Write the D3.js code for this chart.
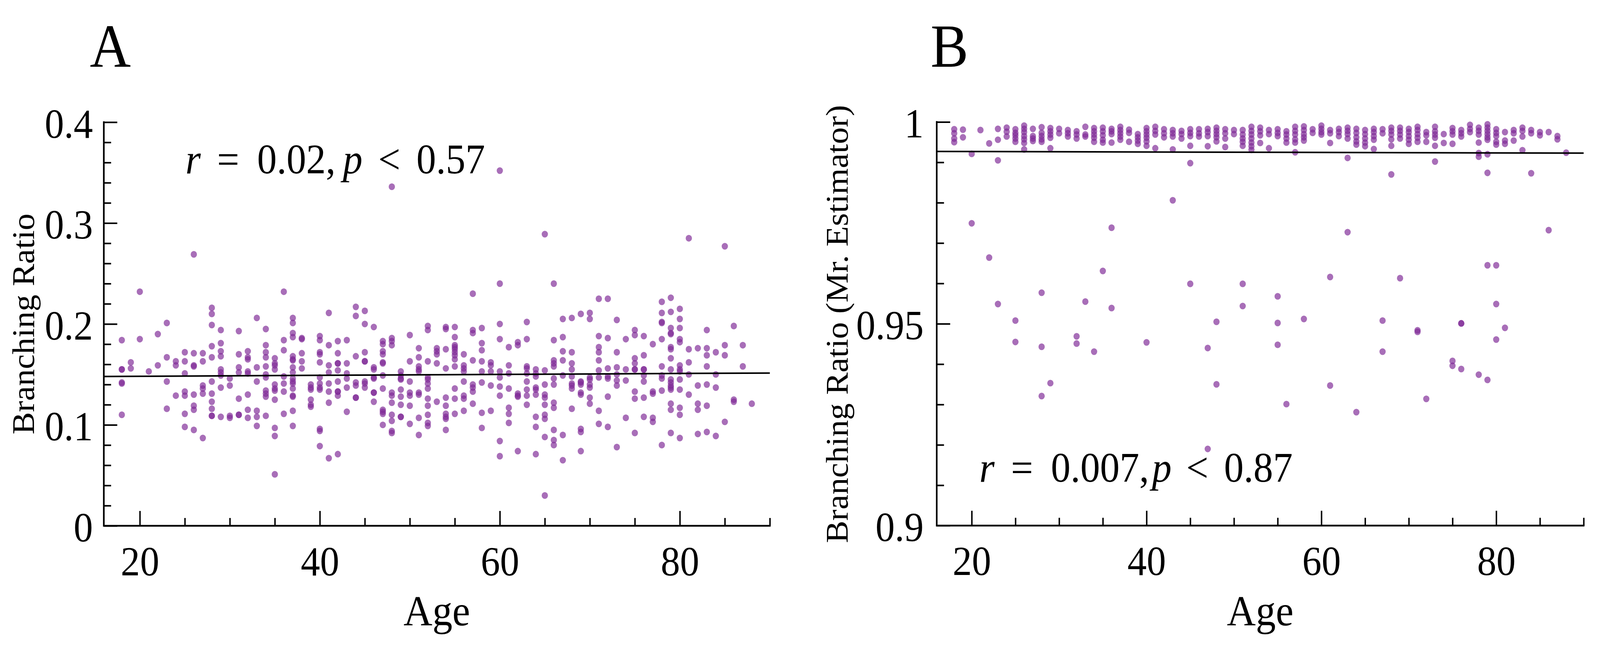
<!DOCTYPE html>
<html>
<head>
<meta charset="utf-8">
<script src="https://cdn.jsdelivr.net/npm/d3@7/dist/d3.min.js"></script>
<style>
  html, body { margin: 0; padding: 0; background: #ffffff; overflow: hidden; width: 100%; height: 100%; }
  #chart { position: fixed; left: 0; top: 0; width: 100vw; height: 100vh; display: block; }
  svg text { font-family: "Liberation Serif", "Times New Roman", "DejaVu Serif", serif; fill: #000; }
</style>
</head>
<body>
<svg id="chart" viewBox="0 0 4400 1719" preserveAspectRatio="none"></svg>
<script>
// ---------------- DATA ----------------
// Panel A: Branching Ratio vs Age (values per age)
const agesA = [18,19,20,21,22,23,24,25,26,27,28,29,30,31,32,33,34,35,36,37,38,39,40,41,42,43,44,45,46,47,48,49,50,51,52,53,54,55,56,57,58,59,60,61,62,63,64,65,66,67,68,69,70,71,72,73,74,75,76,77,78,79,80,81,82,83,84,85,86,87,88];
const ratiosA = [
  [0.184,0.155,0.155,0.142,0.141,0.110],
  [0.162,0.156],
  [0.232,0.185],
  [0.153],
  [0.190,0.159],
  [0.201,0.167,0.143,0.116],
  [0.163,0.159,0.129],
  [0.172,0.163,0.151,0.133,0.129,0.111,0.098],
  [0.269,0.171,0.159,0.158,0.130,0.119,0.115,0.095],
  [0.171,0.163,0.139,0.136,0.131,0.087],
  [0.216,0.210,0.199,0.178,0.167,0.143,0.131,0.123,0.116,0.109,0.109],
  [0.194,0.181,0.173,0.168,0.155,0.152,0.149,0.137,0.108],
  [0.146,0.139,0.109,0.107],
  [0.193,0.170,0.157,0.152,0.126,0.110,0.110],
  [0.173,0.167,0.165,0.153,0.151,0.130,0.115,0.107],
  [0.206,0.157,0.143,0.114,0.108,0.099],
  [0.195,0.179,0.172,0.167,0.158,0.150,0.147,0.134,0.131,0.128,0.109],
  [0.166,0.161,0.159,0.155,0.140,0.136,0.134,0.125,0.097,0.089,0.051],
  [0.232,0.184,0.174,0.148,0.141,0.133,0.111],
  [0.206,0.201,0.191,0.187,0.168,0.165,0.164,0.157,0.152,0.146,0.143,0.141,0.136,0.129,0.128,0.114,0.099],
  [0.186,0.185,0.171,0.163,0.156],
  [0.140,0.137,0.135,0.125,0.120,0.118],
  [0.188,0.184,0.172,0.170,0.162,0.147,0.141,0.137,0.135,0.096,0.094,0.079],
  [0.211,0.179,0.159,0.152,0.141,0.133,0.122,0.067],
  [0.183,0.171,0.161,0.161,0.154,0.143,0.133,0.133,0.129,0.071],
  [0.184,0.161,0.151,0.146,0.137,0.113],
  [0.217,0.208,0.168,0.142,0.139,0.127,0.127],
  [0.213,0.200,0.172,0.163,0.163,0.143,0.141,0.137],
  [0.197,0.157,0.155,0.147,0.146,0.132,0.132,0.123],
  [0.183,0.180,0.173,0.170,0.162,0.161,0.149,0.136,0.115,0.113,0.111,0.100],
  [0.336,0.186,0.183,0.179,0.132,0.129,0.122,0.110,0.104,0.094,0.092],
  [0.153,0.149,0.146,0.145,0.135,0.128,0.120,0.108,0.108],
  [0.189,0.163,0.143,0.132,0.129,0.119,0.101],
  [0.176,0.167,0.158,0.155,0.153,0.132,0.130,0.107,0.090],
  [0.198,0.194,0.163,0.147,0.145,0.141,0.136,0.126,0.119,0.110,0.102,0.099],
  [0.176,0.173,0.170,0.161,0.123],
  [0.197,0.195,0.175,0.156,0.127,0.119,0.111,0.108,0.106,0.095],
  [0.197,0.187,0.179,0.177,0.175,0.172,0.169,0.165,0.158,0.136,0.126,0.111],
  [0.170,0.159,0.156,0.153,0.143,0.129,0.126,0.114],
  [0.230,0.194,0.191,0.164,0.140,0.137,0.133,0.121],
  [0.196,0.181,0.174,0.163,0.153,0.142,0.112,0.097],
  [0.162,0.159,0.153,0.139,0.114],
  [0.352,0.240,0.200,0.185,0.153,0.147,0.138,0.129,0.084,0.069],
  [0.177,0.159,0.151,0.136,0.117,0.111,0.102],
  [0.182,0.179,0.131,0.129,0.128,0.074],
  [0.202,0.185,0.158,0.156,0.151,0.143,0.135,0.129,0.120],
  [0.155,0.151,0.148,0.137,0.135,0.130,0.108,0.098,0.071],
  [0.289,0.154,0.140,0.130,0.127,0.120,0.110,0.106,0.088,0.030],
  [0.240,0.184,0.164,0.161,0.158,0.146,0.140,0.122,0.117,0.095,0.085,0.080],
  [0.205,0.187,0.173,0.164,0.149,0.090,0.065],
  [0.206,0.172,0.161,0.155,0.148,0.141,0.139,0.136,0.116],
  [0.210,0.143,0.142,0.140,0.132,0.130,0.096,0.093,0.074],
  [0.211,0.205,0.147,0.145,0.140,0.137,0.127,0.121],
  [0.225,0.188,0.177,0.172,0.164,0.154,0.147,0.114,0.101],
  [0.225,0.186,0.156,0.148,0.146,0.128,0.098],
  [0.204,0.172,0.157,0.150,0.144,0.139,0.078],
  [0.185,0.155,0.144,0.107],
  [0.194,0.189,0.166,0.161,0.155,0.155,0.133,0.126,0.092],
  [0.188,0.169,0.155,0.155,0.149,0.143,0.127,0.108],
  [0.180,0.133,0.131,0.107,0.103],
  [0.222,0.211,0.202,0.201,0.185,0.158,0.149,0.146,0.134,0.080],
  [0.226,0.212,0.196,0.191,0.190,0.177,0.175,0.166,0.155,0.145,0.142,0.139,0.137,0.135,0.121,0.115,0.092],
  [0.215,0.205,0.196,0.185,0.182,0.159,0.155,0.153,0.145,0.135,0.117,0.110,0.087],
  [0.285,0.175,0.162,0.150,0.130],
  [0.176,0.139,0.121,0.115,0.091],
  [0.194,0.176,0.169,0.158,0.140,0.119,0.093],
  [0.172,0.150,0.137,0.089],
  [0.277,0.179,0.169,0.103],
  [0.198,0.125,0.123],
  [0.179,0.158],
  [0.121]
];
const fitA = [[16, 0.1480], [90, 0.1514]];

// Panel B: Branching Ratio (Mr. Estimator) vs Age
const agesB = [18,19,20,21,22,23,24,25,26,27,28,29,30,31,32,33,34,35,36,37,38,39,40,41,42,43,44,45,46,47,48,49,50,51,52,53,54,55,56,57,58,59,60,61,62,63,64,65,66,67,68,69,70,71,72,73,74,75,76,77,78,79,80,81,82,83,84,85,86,87,88];
const ratiosB = [
  [0.9982,0.9972,0.9959,0.9950],
  [0.9981,0.9962],
  [0.9921,0.9749],
  [0.9980],
  [0.9947,0.9664],
  [0.9983,0.9956,0.9905,0.9549],
  [0.9986,0.9976,0.9964],
  [0.9982,0.9973,0.9967,0.9959,0.9951,0.9508,0.9455],
  [0.9991,0.9983,0.9975,0.9965,0.9957,0.9948,0.9932],
  [0.9983,0.9965,0.9959,0.9953],
  [0.9987,0.9973,0.9965,0.9957,0.9951,0.9577,0.9443,0.9321],
  [0.9985,0.9977,0.9969,0.9961,0.9935,0.9353],
  [0.9983,0.9972],
  [0.9980,0.9972,0.9964],
  [0.9977,0.9969,0.9959,0.9469,0.9451],
  [0.9988,0.9969,0.9964,0.9555],
  [0.9985,0.9977,0.9969,0.9961,0.9951,0.9431],
  [0.9986,0.9977,0.9967,0.9956,0.9949,0.9631],
  [0.9983,0.9977,0.9970,0.9949,0.9738,0.9539],
  [0.9988,0.9980,0.9972,0.9964,0.9956],
  [0.9981,0.9973,0.9951],
  [0.9970,0.9962,0.9954,0.9946],
  [0.9985,0.9977,0.9969,0.9961,0.9952,0.9941,0.9454],
  [0.9988,0.9978,0.9969,0.9935],
  [0.9982,0.9972,0.9962],
  [0.9980,0.9972,0.9964,0.9932,0.9806],
  [0.9978,0.9970,0.9959],
  [0.9982,0.9973,0.9965,0.9941,0.9898,0.9599],
  [0.9982,0.9972,0.9964],
  [0.9983,0.9975,0.9965,0.9940,0.9440,0.9190],
  [0.9986,0.9978,0.9970,0.9962,0.9952,0.9505,0.9350],
  [0.9982,0.9972,0.9959,0.9938],
  [0.9980,0.9970],
  [0.9980,0.9969,0.9959,0.9951,0.9941,0.9599,0.9544],
  [0.9988,0.9978,0.9969,0.9959,0.9949,0.9940,0.9931],
  [0.9986,0.9977,0.9967,0.9948],
  [0.9980,0.9970,0.9935],
  [0.9982,0.9973,0.9965,0.9568,0.9502,0.9448],
  [0.9977,0.9969,0.9959,0.9949,0.9301],
  [0.9988,0.9978,0.9969,0.9957,0.9949,0.9925],
  [0.9989,0.9980,0.9970,0.9962,0.9954,0.9512],
  [0.9982,0.9973],
  [0.9991,0.9983,0.9975,0.9969],
  [0.9980,0.9972,0.9948,0.9616,0.9347],
  [0.9983,0.9975,0.9965],
  [0.9986,0.9978,0.9970,0.9959,0.9911,0.9727],
  [0.9983,0.9973,0.9962,0.9952,0.9944,0.9281],
  [0.9980,0.9970,0.9959,0.9949,0.9940],
  [0.9983,0.9975,0.9965,0.9956,0.9933],
  [0.9982,0.9972,0.9508,0.9431],
  [0.9986,0.9978,0.9969,0.9957,0.9941,0.9870],
  [0.9986,0.9978,0.9969,0.9959,0.9613],
  [0.9983,0.9975,0.9965,0.9956,0.9946],
  [0.9988,0.9980,0.9970,0.9961,0.9951,0.9484,0.9480],
  [0.9975,0.9967,0.9951,0.9314],
  [0.9988,0.9977,0.9969,0.9961,0.9941,0.9902],
  [0.9970,0.9948],
  [0.9985,0.9977,0.9969,0.9946,0.9408,0.9396],
  [0.9980,0.9972,0.9964,0.9501,0.9501,0.9388],
  [0.9993,0.9983,0.9975],
  [0.9986,0.9978,0.9969,0.9949,0.9923,0.9914,0.9374],
  [0.9994,0.9986,0.9978,0.9970,0.9962,0.9956,0.9920,0.9874,0.9645,0.9361],
  [0.9982,0.9973,0.9965,0.9951,0.9944,0.9645,0.9549,0.9461],
  [0.9975,0.9954,0.9946,0.9490],
  [0.9980,0.9972,0.9954],
  [0.9986,0.9978,0.9964,0.9930],
  [0.9980,0.9972,0.9873],
  [0.9975,0.9967],
  [0.9975,0.9732],
  [0.9965,0.9957],
  [0.9924]
];
const fitB = [[16, 0.9927], [90, 0.99228]];

// Axis ticks / labels
const xMajorTicks = [20, 40, 60, 80];
const xMinorTicks = [25, 30, 35, 45, 50, 55, 65, 70, 75, 85, 90];
const yMajorTicksA = [0, 0.1, 0.2, 0.3, 0.4];
const yTickLabelsA = ["0", "0.1", "0.2", "0.3", "0.4"];
const yMajorTicksB = [0.9, 0.95, 1.0];
const yTickLabelsB = ["0.9", "0.95", "1"];
const panelLetters = ["A", "B"];
const annotA = ["r", "=", "0.02,", "p", "<", "0.57"];
const annotB = ["r", "=", "0.007,", "p", "<", "0.87"];
const xLabel = "Age";
const yLabelA = "Branching Ratio";
const yLabelB = "Branching Ratio (Mr. Estimator)";

// ---------------- DRAWING ----------------
const svg = d3.select("#chart");
svg.append("rect").attr("width", 4400).attr("height", 1719).attr("fill", "#ffffff");

const DOT_FILL = "#7f2a96";
const DOT_OPACITY = 0.68;
const FONT = '"Liberation Serif","Times New Roman",serif';

function flatten(ages, vals) {
  const out = [];
  ages.forEach((a, i) => vals[i].forEach(v => out.push({ age: a, v: v })));
  return out;
}

function drawPanel(cfg) {
  const x = d3.scaleLinear().domain([16, 90]).range([cfg.left, cfg.right]);
  const y = d3.scaleLinear().domain(cfg.yDomain).range([cfg.bottom, cfg.top]);
  const g = svg.append("g");

  // dots
  g.append("g").selectAll("circle")
    .data(flatten(cfg.ages, cfg.vals))
    .join("circle")
    .attr("cx", d => x(d.age))
    .attr("cy", d => y(d.v))
    .attr("r", 8.6)
    .attr("fill", DOT_FILL)
    .attr("fill-opacity", DOT_OPACITY);

  // regression line
  g.append("path")
    .datum(cfg.fit)
    .attr("d", d3.line().x(d => x(d[0])).y(d => y(d[1])))
    .attr("fill", "none")
    .attr("stroke", "#000")
    .attr("stroke-width", 4);

  // x axis minor
  g.append("g").attr("transform", `translate(0,${cfg.bottom})`)
    .call(d3.axisBottom(x).tickValues(xMinorTicks).tickSize(-20).tickSizeOuter(0).tickFormat(""));
  // x axis major
  const xMajor = g.append("g").attr("transform", `translate(0,${cfg.bottom})`)
    .call(d3.axisBottom(x).tickValues(xMajorTicks).tickSize(-38).tickSizeOuter(0).tickFormat(d => String(d)));
  xMajor.selectAll("text").attr("y", 127).attr("dy", 0).attr("font-size", 106)
    .style("font-family", FONT).attr("fill", "#000");

  // y axis minor
  g.append("g").attr("transform", `translate(${cfg.left},0)`)
    .call(d3.axisLeft(y).tickValues(cfg.yMinor).tickSize(-20).tickSizeOuter(0).tickFormat(""));
  // y axis major
  const yMajor = g.append("g").attr("transform", `translate(${cfg.left},0)`)
    .call(d3.axisLeft(y).tickValues(cfg.yMajor).tickSize(-37).tickSizeOuter(0)
      .tickFormat((d, i) => cfg.yLabels[i]));
  yMajor.selectAll("text").attr("x", -cfg.labelGap).attr("dy", 39).attr("font-size", 106)
    .style("font-family", FONT).attr("fill", "#000");

  // L-shaped spines
  g.selectAll(".domain").remove();
  g.append("path")
    .attr("d", `M${cfg.left},${cfg.top}V${cfg.bottom}H${cfg.right}`)
    .attr("fill", "none").attr("stroke", "#000").attr("stroke-width", 4.5)
    .attr("stroke-linecap", "square");
  g.selectAll(".tick line").attr("stroke", "#000").attr("stroke-width", 4);

  // axis labels
  g.append("text")
    .attr("x", (cfg.left + cfg.right) / 2).attr("y", 1602)
    .attr("text-anchor", "middle").attr("font-size", 110)
    .text(xLabel);
  g.append("text")
    .attr("transform", `translate(${cfg.yLabelX},830) rotate(-90)`)
    .attr("text-anchor", "middle").attr("font-size", 86)
    .text(cfg.yLabel);

  // panel letter
  g.append("text")
    .attr("x", cfg.letterX).attr("y", 171)
    .attr("font-size", 156)
    .text(cfg.letter);

  // annotation (pieces placed individually)
  const t = g.append("text").attr("y", cfg.annotY).attr("font-size", 108);
  cfg.annot.forEach((s, i) => {
    t.append("tspan")
      .attr("x", cfg.annotX[i])
      .attr("font-style", (s === "r" || s === "p") ? "italic" : "normal")
      .text(s);
  });
}

drawPanel({
  left: 285.5, right: 2117, top: 313, bottom: 1347,
  yDomain: [0, 0.4],
  yMajor: yMajorTicksA, yLabels: yTickLabelsA,
  yMinor: d3.range(0.02, 0.4, 0.02).filter(v => Math.abs(v * 10 - Math.round(v * 10)) > 1e-6),
  labelGap: 30,
  ages: agesA, vals: ratiosA, fit: fitA,
  yLabel: yLabelA, yLabelX: 93,
  letter: panelLetters[0], letterX: 247,
  annot: annotA, annotX: [510, 597, 707, 943, 1040, 1145], annotY: 444
});

drawPanel({
  left: 2576, right: 4355, top: 312.5, bottom: 1346.5,
  yDomain: [0.9, 1.0],
  yMajor: yMajorTicksB, yLabels: yTickLabelsB,
  yMinor: d3.range(0.91, 1.0, 0.01).filter(v => Math.abs(v - 0.95) > 1e-6),
  labelGap: 36,
  ages: agesB, vals: ratiosB, fit: fitB,
  yLabel: yLabelB, yLabelX: 2331,
  letter: panelLetters[1], letterX: 2559,
  annot: annotB, annotX: [2693, 2780, 2890, 3168, 3262, 3366], annotY: 1234
});
</script>
</body>
</html>
